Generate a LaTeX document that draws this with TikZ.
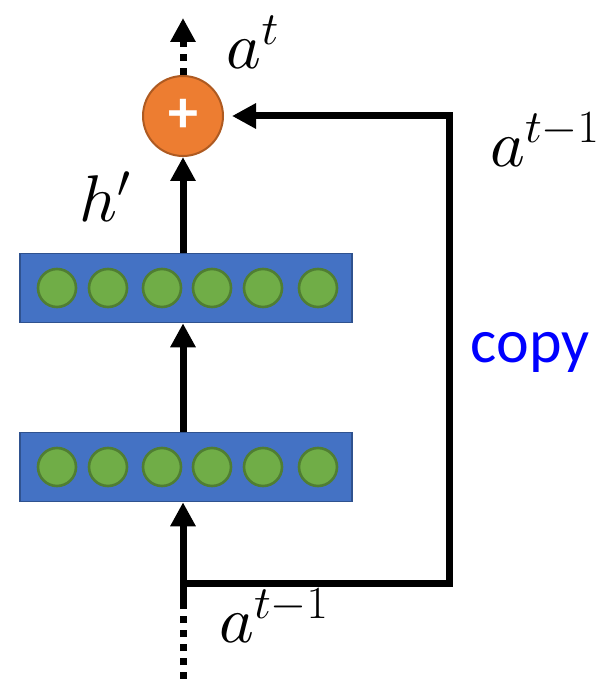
\RequirePackage{fix-cm}
\documentclass[tikz,border=0pt]{standalone}
\usepackage{amsmath}
\usepackage{fontspec}
\newfontfamily\copyfont{Carlito}
\usepackage{tikz}
\usetikzlibrary{positioning,arrows.meta,calc}
\DeclareFontShape{OML}{cmm}{m}{it}{<->cmmi10}{}
\DeclareFontShape{OMS}{cmsy}{m}{n}{<->cmsy10}{}
\definecolor{layerblue}{HTML}{4472C4}
\definecolor{layeredge}{HTML}{2F528F}
\definecolor{unitgreen}{HTML}{70AD47}
\definecolor{unitedge}{HTML}{507E32}
\definecolor{sumorange}{HTML}{ED7D31}
\definecolor{sumedge}{HTML}{AE5A21}
\tikzset{
  layer/.style={draw=layeredge,fill=layerblue,line width=0.8pt,
    minimum width=166pt,minimum height=34.5pt,inner sep=0pt},
  unit/.style={circle,draw=unitedge,fill=unitgreen,line width=1.3pt,
    minimum size=19pt,inner sep=0pt},
  flow/.style={line width=3.5pt,-{Triangle[length=12pt,width=12pt]}},
  wire/.style={line width=3.5pt},
  dots/.style={line width=3.5pt,dash pattern=on 3.5pt off 3.5pt},
  lab/.style={font=\fontsize{33}{40}\selectfont}
}

\begin{document}
\begin{tikzpicture}[x=0.5pt,y=-0.5pt]
  \useasboundingbox (0,0) rectangle (612,679);
  % the two hidden layers
  \node[layer] (upper) at (186,288) {};
  \node[layer] (lower) at (186,467) {};
  \foreach \x [count=\i] in {57,108,162,212,263,318} {
    \node[unit] (u\i) at (\x,288) {};
    \node[unit] (l\i) at (\x,467) {};
  }
  % sum node
  \node[circle,draw=sumedge,fill=sumorange,line width=1pt,minimum size=40pt,
        inner sep=0pt,text=white,font=\fontsize{30}{30}\selectfont\copyfont\bfseries]
        (sum) at (183,116) {+};
  % corners of the copy loop
  \coordinate (out) at (183,18);
  \coordinate (in) at (183,679);
  \coordinate (split) at (183,583);
  \coordinate (cut) at (183,608);
  \coordinate (loopbot) at (449,583);
  \coordinate (looptop) at (449,116);
  % forward path
  \draw[dots,-{Triangle[length=12pt,width=12pt]}] (sum.north) -- (out);
  \draw[dots] (in) -- (cut);
  \draw[flow] (cut) -- (cut |- lower.south);
  \draw[flow] (sum |- lower.north) -- (sum |- upper.south);
  \draw[flow] (sum |- upper.north) -- (sum.south);
  % copy of the previous output
  \draw[wire,line join=miter] (split) -- (loopbot) -- (looptop) -- ++(-110,0);
  \draw[flow] ($(looptop)+(-100,0)$) -- ($(sum.east)+(8,0)$);
  % labels
  \node[lab] (at) at (253,42) {$a^{t}$};
  \node[lab] (hp) at (105,197) {$h'$};
  \node[lab] (aprev) at (545,140) {$a^{t-1}$};
  \node[lab] (abot) at (274,616) {$a^{t-1}$};
  \node[text=blue,font=\fontsize{31}{36}\selectfont\copyfont] (cp) at (530,352) {copy};
\end{tikzpicture}
\end{document}
